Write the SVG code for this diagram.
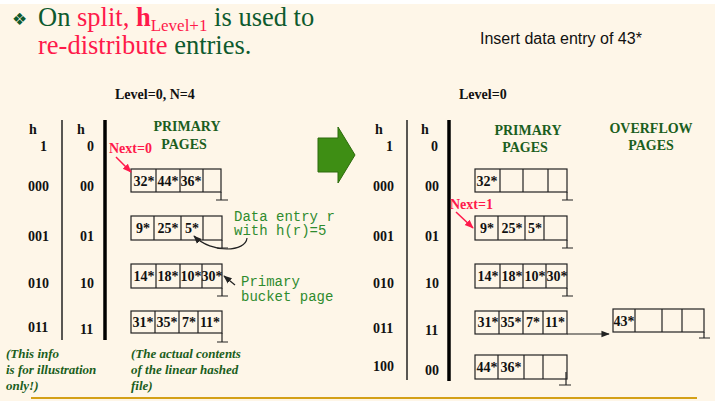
<svg xmlns="http://www.w3.org/2000/svg" width="715" height="401" viewBox="0 0 715 401">
<defs>
<style>
.bg{fill:#FEF6E8}
.t{font-family:"Liberation Serif","Times New Roman",serif;font-weight:bold;font-size:14px;fill:#111}
.c{font-family:"Liberation Serif","Times New Roman",serif;font-weight:bold;font-size:14px;fill:#111;text-anchor:middle}
.g{font-family:"Liberation Serif","Times New Roman",serif;font-weight:bold;font-size:14px;fill:#1B5E20;text-anchor:middle}
.gi{font-family:"Liberation Serif","Times New Roman",serif;font-weight:bold;font-style:italic;font-size:13px;fill:#1B5E20}
.m{font-family:"Liberation Mono","Courier New",monospace;font-size:14px;fill:#2E8B2E}
.red{font-family:"Liberation Serif","Times New Roman",serif;font-weight:bold;font-size:14px;fill:#FF1A4B}
.box{fill:none;stroke:#222;stroke-width:1.2}
.ln{stroke:#222;stroke-width:1.2;fill:none}
.thin{stroke:#222;stroke-width:1.5}
.thick{stroke:#000;stroke-width:3.5}
.title{font-family:"Liberation Serif","Times New Roman",serif;font-size:26.5px;fill:#0E5A2E}
</style>
<marker id="ah" viewBox="0 0 10 10" refX="9" refY="5" markerWidth="7" markerHeight="7" orient="auto-start-reverse"><path d="M0,1 L10,5 L0,9 z" fill="#222"/></marker>
<marker id="ahr" viewBox="0 0 10 10" refX="9" refY="5" markerWidth="6" markerHeight="6" orient="auto"><path d="M0,1 L10,5 L0,9 z" fill="#FF1A4B"/></marker>
</defs>
<rect class="bg" x="0" y="0" width="715" height="401"/>
<rect x="0" y="0" width="715" height="4" fill="#fff"/>

<g id="title">
<text x="12" y="25" font-family="DejaVu Sans,sans-serif" font-size="17" fill="#0E5A2E">❖</text>
<text class="title" x="38" y="26">On <tspan fill="#FF1A4B">split,</tspan> <tspan fill="#FF1A4B" font-weight="bold">h</tspan><tspan fill="#FF1A4B" font-size="17" dy="5">Level+1</tspan><tspan dy="-5"> is used to</tspan></text>
<text class="title" x="38" y="54"><tspan fill="#FF1A4B">re-distribute</tspan> entries.</text>
</g>
<g id="insert"><text x="480" y="44" font-family="Liberation Sans,Arial,sans-serif" font-size="16" fill="#111">Insert data entry of 43*</text></g>

<!-- LEFT -->
<g id="left-header">
<text class="t" x="115" y="99" font-size="13">Level=0, N=4</text>
<text class="t" x="29" y="134">h</text><text class="t" x="40" y="151">1</text>
<text class="t" x="77" y="134">h</text><text class="t" x="87" y="151">0</text>
<line class="thin" x1="62" y1="120" x2="62" y2="340"/>
<line class="thick" x1="105" y1="120" x2="105" y2="340"/>
<text class="g" x="187" y="131">PRIMARY</text>
<text class="g" x="184" y="149">PAGES</text>
<text class="red" x="109" y="153">Next=0</text>
</g>
<g id="left-labels">
<text class="t" x="28" y="191">000</text><text class="t" x="80" y="191">00</text>
<text class="t" x="28" y="241">001</text><text class="t" x="80" y="241">01</text>
<text class="t" x="28" y="288">010</text><text class="t" x="80" y="288">10</text>
<text class="t" x="28" y="332">011</text><text class="t" x="80" y="334">11</text>
</g>
<g id="L0">
<rect class="box" x="131" y="169" width="90" height="23"/>
<path class="ln" d="M156,169V192M180,169V192M203,169V192M221,192V200M216,200H228"/>
<text class="c" x="144" y="186">32*</text><text class="c" x="168" y="186">44*</text><text class="c" x="191" y="186">36*</text>
</g>
<g id="L1">
<rect class="box" x="131" y="216" width="91" height="24"/>
<path class="ln" d="M154,216V240M181,216V240M203,216V240M222,240V248M217,248H228"/>
<text class="c" x="143" y="233">9*</text><text class="c" x="168" y="233">25*</text><text class="c" x="192" y="233">5*</text>
</g>
<g id="L2">
<rect class="box" x="131" y="264" width="91" height="24"/>
<path class="ln" d="M156,264V288M180,264V288M202,264V288M222,288V296M217,296H228"/>
<text class="c" x="144" y="281">14*</text><text class="c" x="168" y="281">18*</text><text class="c" x="191" y="281">10*</text><text class="c" x="212" y="281">30*</text>
</g>
<g id="L3">
<rect class="box" x="131" y="311" width="91" height="22"/>
<path class="ln" d="M155,311V333M179,311V333M198,311V333M222,333V342M217,342H228"/>
<text class="c" x="143" y="327">31*</text><text class="c" x="167" y="327">35*</text><text class="c" x="189" y="327">7*</text><text class="c" x="210" y="327">11*</text>
</g>
<g id="left-notes">
<text class="m" x="234" y="221">Data entry r</text>
<text class="m" x="234" y="235">with h(r)=5</text>
<text class="m" x="241" y="286">Primary</text>
<text class="m" x="241" y="301">bucket page</text>
<text class="gi" x="6" y="358">(This info</text>
<text class="gi" x="6" y="374">is for illustration</text>
<text class="gi" x="6" y="390">only!)</text>
<text class="gi" x="131" y="358">(The actual contents</text>
<text class="gi" x="131" y="374">of the linear hashed</text>
<text class="gi" x="131" y="390">file)</text>
</g>

<!-- arrow -->
<g id="big-arrow"><polygon points="318,138 338,138 338,127 355,155 338,183 338,172 318,172" fill="#3E8E14" stroke="#2D6B0C" stroke-width="1"/></g>

<!-- RIGHT -->
<g id="right-header">
<text class="t" x="459" y="99" font-size="13">Level=0</text>
<text class="t" x="375" y="134">h</text><text class="t" x="386" y="151">1</text>
<text class="t" x="421" y="134">h</text><text class="t" x="431" y="151">0</text>
<line class="thin" x1="407" y1="120" x2="407" y2="380"/>
<line class="thick" x1="449" y1="120" x2="449" y2="381"/>
<text class="g" x="528" y="135">PRIMARY</text>
<text class="g" x="525" y="152">PAGES</text>
<text class="g" x="651" y="133">OVERFLOW</text>
<text class="g" x="651" y="150">PAGES</text>
<text class="red" x="450" y="209">Next=1</text>
</g>
<g id="right-labels">
<text class="t" x="373" y="191">000</text><text class="t" x="425" y="191">00</text>
<text class="t" x="373" y="241">001</text><text class="t" x="425" y="241">01</text>
<text class="t" x="373" y="288">010</text><text class="t" x="425" y="288">10</text>
<text class="t" x="373" y="333">011</text><text class="t" x="425" y="335">11</text>
<text class="t" x="373" y="371">100</text><text class="t" x="425" y="375">00</text>
</g>
<g id="R0">
<rect class="box" x="475" y="169" width="92" height="23"/>
<path class="ln" d="M500,169V192M523,169V192M548,169V192M567,192V200M562,200H573"/>
<text class="c" x="487" y="186">32*</text>
</g>
<g id="R1">
<rect class="box" x="475" y="216" width="92" height="24"/>
<path class="ln" d="M498,216V240M525,216V240M544,216V240M567,240V248M562,248H573"/>
<text class="c" x="487" y="233">9*</text><text class="c" x="512" y="233">25*</text><text class="c" x="535" y="233">5*</text>
</g>
<g id="R2">
<rect class="box" x="475" y="264" width="92" height="24"/>
<path class="ln" d="M500,264V288M523,264V288M546,264V288M567,288V296M562,296H573"/>
<text class="c" x="488" y="281">14*</text><text class="c" x="512" y="281">18*</text><text class="c" x="535" y="281">10*</text><text class="c" x="557" y="281">30*</text>
</g>
<g id="R3">
<rect class="box" x="475" y="311" width="92" height="23"/>
<path class="ln" d="M499,311V334M523,311V334M543,311V334"/>
<text class="c" x="488" y="327">31*</text><text class="c" x="511" y="327">35*</text><text class="c" x="533" y="327">7*</text><text class="c" x="555" y="327">11*</text>
</g>
<g id="OV">
<rect class="box" x="613" y="309" width="91" height="23"/>
<path class="ln" d="M635,309V332M662,309V332M682,309V332M704,332V338M699,338H710"/>
<text class="c" x="624" y="326">43*</text>
</g>
<g id="R4">
<rect class="box" x="475" y="355" width="92" height="24"/>
<path class="ln" d="M498,355V379M524,355V379M543,355V379M566,372V385M559,385H571"/>
<text class="c" x="487" y="372">44*</text><text class="c" x="511" y="372">36*</text>
</g>

<g id="connectors">
<line x1="116" y1="157" x2="131" y2="172" stroke="#FF1A4B" stroke-width="1.5" marker-end="url(#ahr)"/>
<line x1="456" y1="212" x2="473" y2="228" stroke="#FF1A4B" stroke-width="1.5" marker-end="url(#ahr)"/>
<path class="ln" d="M247,238 C246,252 212,254 194,236" marker-end="url(#ah)"/>
<line class="ln" x1="235" y1="285" x2="224" y2="276" marker-end="url(#ah)"/>
<line class="ln" x1="567" y1="334" x2="609" y2="334" marker-end="url(#ah)"/>
</g>
<line x1="31" y1="398" x2="697" y2="398" stroke="#D4A017" stroke-width="2"/>
</svg>
